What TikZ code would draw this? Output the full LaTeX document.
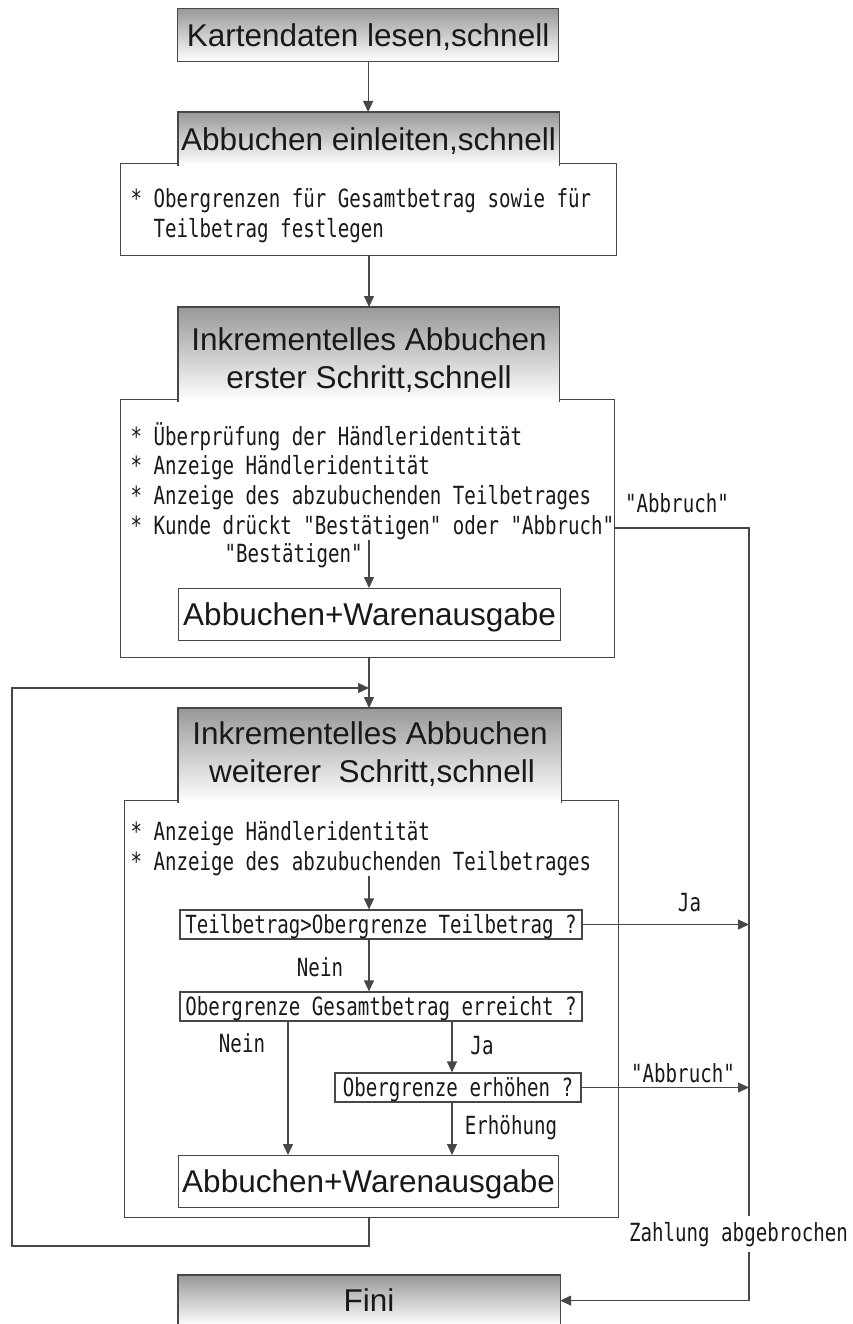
\documentclass[tikz,border=0pt]{standalone}
\usepackage{fontspec}
\usetikzlibrary{arrows.meta}
\newfontfamily\hfont{Liberation Sans}
\newfontfamily\mfont[FakeStretch=0.765]{DejaVu Sans Mono}
\definecolor{lineg}{gray}{0.28}
\definecolor{shadeg}{gray}{0.6}
\definecolor{inkc}{gray}{0.1}

\begin{document}
\begin{tikzpicture}[x=1pt,y=-1pt,line width=1.2pt,
  lin/.style={draw=lineg,line width=1.2pt},
  arr/.style={lin,-{Triangle[length=11pt,width=10pt]}},
  big/.style={font=\fontsize{31.5}{38}\hfont,text=inkc},
  mono/.style={font=\fontsize{25}{30}\mfont,text=inkc,inner sep=0pt},
  hdr/.style={shade,top color=shadeg,bottom color=white,inner sep=0pt,anchor=north west},
  capfit/.style={text height=22.5pt,text depth=0pt},
  body/.style={draw=lineg,line width=1.2pt,anchor=north west,inner sep=0pt},
  plainbox/.style={draw=lineg,line width=1.2pt,anchor=north west,inner sep=0pt,big,capfit},
  dec/.style={draw=lineg,line width=1.2pt,mono,text height=18pt,text depth=0pt,minimum height=29pt},
  line/.style={mono,anchor=base west},
  lab/.style={mono,anchor=base},
]
\useasboundingbox (0,0) rectangle (853,1324);
\clip (0,0) rectangle (853,1324);

% guide lines for the connectors
\coordinate (spine) at (369,0);
\coordinate (nx) at (288,0);
\coordinate (jx) at (452,0);
\coordinate (rail) at (749,528);
\coordinate (loopc) at (12,1246);
\coordinate (loopin) at (369,688);

% ---- bodies of the stages
\node[body,minimum width=496pt,minimum height=92pt] (b2) at (120,163) {};
\node[body,minimum width=494pt,minimum height=258pt] (b3) at (120,399) {};
\node[body,minimum width=494pt,minimum height=417pt] (b4) at (124,800) {};

% ---- shaded title boxes
\node[hdr,draw=lineg,big,capfit,minimum width=381pt,minimum height=53pt] (k1) at (177,8) {Kartendaten lesen,schnell};

\node[hdr,big,capfit,minimum width=380pt,minimum height=52.5pt] (h2) at (178,112) {Abbuchen einleiten,schnell};
\draw[lin] (h2.south west) -- (h2.north west) -- (h2.north east) -- (h2.south east);

\node[hdr,minimum width=380pt,minimum height=93.5pt] (h3) at (178,307) {};
\draw[lin] (h3.south west) -- (h3.north west) -- (h3.north east) -- (h3.south east);
\node[big,anchor=base,inner sep=0pt] (h3a) at (369,350) {Inkrementelles Abbuchen};
\node[big,anchor=base,inner sep=0pt] (h3b) at (369,388) {erster Schritt,schnell};

\node[hdr,minimum width=382pt,minimum height=93.5pt] (h4) at (178,708) {};
\draw[lin] (h4.south west) -- (h4.north west) -- (h4.north east) -- (h4.south east);
\node[big,anchor=base,inner sep=0pt] (h4a) at (370,744) {Inkrementelles Abbuchen};
\node[big,anchor=base,inner sep=0pt] (h4b) at (372,782) {weiterer\ \ Schritt,schnell};

\node[hdr,big,capfit,minimum width=381pt,minimum height=50pt] (fini) at (178,1275) {Fini};
\draw[lin] (fini.south west) -- (fini.north west) -- (fini.north east) -- (fini.south east);

% ---- texts inside the bodies
\node[line] (l21) at (130,208) {* Obergrenzen für Gesamtbetrag sowie für};
\node[line] (l22) at (153,237) {Teilbetrag festlegen};

\node[line] (l31) at (130,445) {* Überprüfung der Händleridentität};
\node[line] (l32) at (130,474.7) {* Anzeige Händleridentität};
\node[line] (l33) at (130,504.4) {* Anzeige des abzubuchenden Teilbetrages};
\node[line] (l34) at (130,534) {* Kunde drückt "Bestätigen" oder "Abbruch"};
\node[line] (lbest) at (224,562) {"Bestätigen"};
\node[plainbox,minimum width=382pt,minimum height=52pt] (ab3) at (178,588) {Abbuchen+Warenausgabe};

\node[line] (l41) at (130,840) {* Anzeige Händleridentität};
\node[line] (l42) at (130,870) {* Anzeige des abzubuchenden Teilbetrages};

\node[dec,minimum width=402pt] (d1) at (381,924.5) {Teilbetrag>Obergrenze Teilbetrag ?};
\node[dec,minimum width=402pt] (d2) at (381,1006.5) {Obergrenze Gesamtbetrag erreicht ?};
\node[dec,minimum width=246pt] (d3) at (458,1087.5) {Obergrenze erhöhen ?};
\node[plainbox,minimum width=380pt,minimum height=52pt] (ab4) at (178,1155) {Abbuchen+Warenausgabe};

% ---- connectors
\draw[arr] (k1.south) -- (k1.south |- h2.north);
\draw[arr] (b2.south -| spine) -- (h3.north -| spine);
\draw[arr] (l34.south -| spine) -- (ab3.north -| spine);
\draw[arr] (b3.south -| spine) -- (h4.north -| spine);
\draw[arr] (b4.south -| spine) |- (loopc) |- (loopin);
\draw[arr] (l42.south -| spine) -- (d1.north -| spine);
\draw[arr] (d1.south -| spine) -- (d2.north -| spine);
\draw[arr] (d2.south -| nx) -- (ab4.north -| nx);
\draw[arr] (d2.south -| jx) -- (d3.north -| jx);
\draw[arr] (d3.south -| jx) -- (ab4.north -| jx);
\draw[arr] (b3.east |- rail) -- (rail) |- (fini.east);
\draw[arr] (d1.east) -- (d1.east -| rail);
\draw[arr] (d3.east) -- (d3.east -| rail);

% ---- connector labels
\node[lab] (tabbr1) at (677,512) {"Abbruch"};
\node[lab] (tja1) at (689.5,911) {Ja};
\node[lab] (tnein1) at (320,976) {Nein};
\node[lab] (tnein2) at (242,1052) {Nein};
\node[lab] (tja2) at (482,1054) {Ja};
\node[lab] (tabbr2) at (683,1082) {"Abbruch"};
\node[lab] (terh) at (511,1134) {Erhöhung};
\node[lab,fill=white,inner ysep=6pt] (tzahl) at (738.5,1241) {Zahlung abgebrochen};
\end{tikzpicture}
\end{document}
